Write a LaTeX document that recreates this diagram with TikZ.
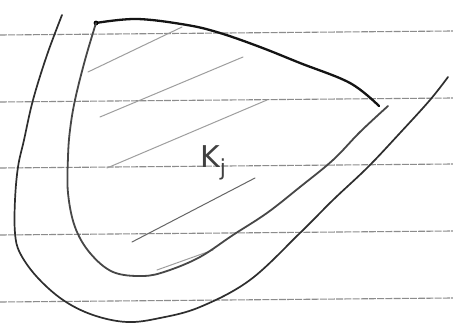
\documentclass[tikz,border=0pt]{standalone}
\usepackage{fontspec}
\setsansfont{DejaVu Sans}
\begin{document}
\begin{tikzpicture}[x=1pt,y=-1pt,
  ruled/.style={draw=black!45, line width=1.1pt, dash pattern=on 7pt off 1.2pt},
  outline/.style={draw=black!82, line width=1.7pt, line cap=round},
  topedge/.style={draw=black!92, line width=2.3pt, line cap=round},
  inneredge/.style={draw=black!72, line width=1.8pt, line cap=round},
  hatch/.style={draw=black!38, line width=1pt, line cap=round}]
\useasboundingbox[fill=white] (0,0) rectangle (453,326);
% ruled paper lines
\draw[ruled] (0,35) -- (453,31);
\draw[ruled] (0,102) -- (453,98);
\draw[ruled] (0,168) -- (453,164);
\draw[ruled] (0,235) -- (453,231);
\draw[ruled] (0,302) -- (453,298);
% hatching
\draw[hatch] (88,72) -- (182,27);
\draw[hatch] (100,117) -- (243,57);
\draw[hatch] (107,168) -- (267,100);
\draw[hatch, draw=black!60] (132,242) -- (255,178);
\draw[hatch] (157,270) -- (213,250);
% outer curve
\draw[outline] plot[smooth, tension=0.6] coordinates {
  (62,15) (47,55) (33,100) (24,140) (18,167) (15,200) (15,233) (20,253)
  (37,277) (63,300) (93,315) (127,322) (160,318) (200,307) (250,280)
  (300,233) (333,200) (368,167) (400,133) (430,100) (448,77)};
% top edge
\draw[topedge] plot[smooth, tension=0.6] coordinates {
  (96,23) (137,19) (187,25) (220,33) (260,47) (300,63) (350,83) (379,106)};
\fill[black] (96,23) circle (2.4pt);
% inner edge
\draw[inneredge] plot[smooth, tension=0.6] coordinates {
  (96,23) (85,60) (75,100) (70,130) (68,157) (68,193) (75,227) (90,253)
  (113,272) (143,276) (167,271) (200,257) (233,235) (267,213) (300,187)
  (333,160) (360,132) (388,106)};
% label
\node[font=\sffamily\fontsize{30}{34}\selectfont, text=black!75, inner sep=0pt] (kj) at (213,163) {K\raisebox{-0.5ex}{\fontsize{22}{24}\selectfont j}};
\end{tikzpicture}
\end{document}
